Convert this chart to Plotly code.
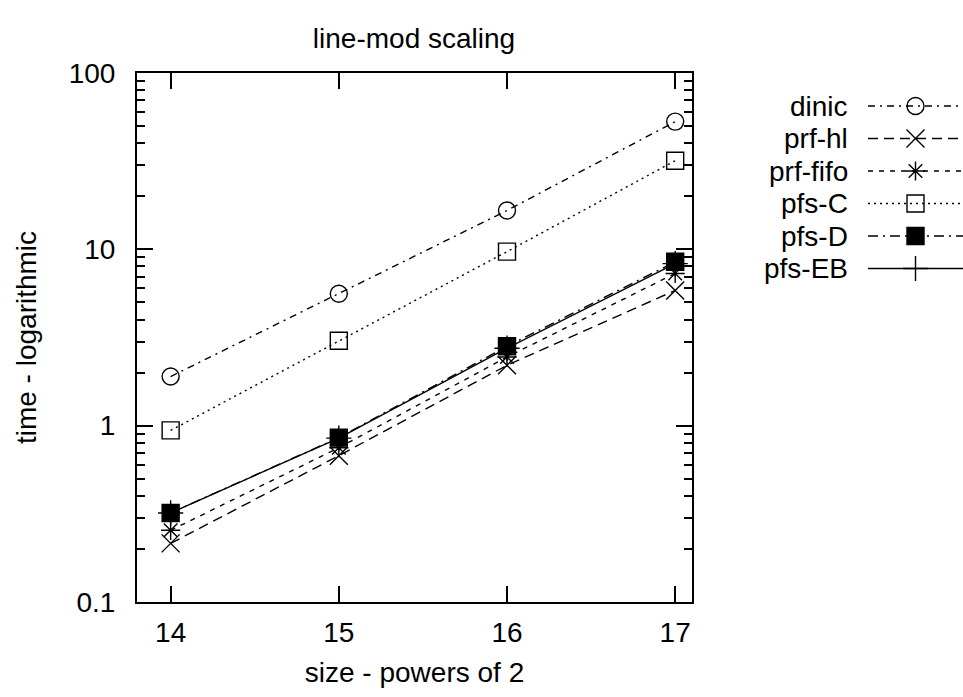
import plotly.graph_objects as go

# ---- data ----
sizes = [14, 15, 16, 17]
dinic = [1.90, 5.6, 16.6, 53.0]
prf_hl = [0.215, 0.676, 2.2, 5.85]
prf_fifo = [0.255, 0.75, 2.45, 7.3]
pfs_C = [0.94, 3.03, 9.7, 31.8]
pfs_D = [0.32, 0.855, 2.82, 8.5]
pfs_EB = [0.32, 0.85, 2.75, 8.3]

names = ["dinic", "prf-hl", "prf-fifo", "pfs-C", "pfs-D", "pfs-EB"]
series = [dinic, prf_hl, prf_fifo, pfs_C, pfs_D, pfs_EB]
ytickvals = [0.1, 1, 10, 100]
yticktext = ["0.1", "1", "10", "100"]
yminor = [m * 10 ** e for e in (-1, 0, 1) for m in range(2, 10)]

# ---- styles ----
dashes = ["7px,5px,2px,5px", "10px,6px", "5px,6px", "2px,4px", "10px,5px,2px,5px", "solid"]
symbols = ["circle-open", "x-thin-open", "asterisk-open", "square-open", "square", "cross-thin-open"]
msizes = [17, 18, 16, 17, 17, 18]

FONT = "Liberation Sans, Arial, Helvetica, sans-serif"
FS = 28
W, H = 963, 697
L, R_PLOT, T, B_PLOT = 137, 692, 73, 602
plot_w = W - L  # margin right = 0
main_dom = (R_PLOT - L) / plot_w

fig = go.Figure()

for nm, ys, d, s, ms in zip(names, series, dashes, symbols, msizes):
    fig.add_trace(go.Scatter(
        x=sizes, y=ys, mode="lines+markers", name=nm,
        line=dict(color="black", width=1.4, dash=d),
        marker=dict(symbol=s, size=ms, color="black",
                    line=dict(color="black", width=1.4)),
        xaxis="x", yaxis="y", showlegend=False, cliponaxis=False,
    ))

# custom legend (text left, sample right) drawn in a hidden helper axis
for i, (nm, d, s, ms) in enumerate(zip(names, dashes, symbols, msizes)):
    fig.add_trace(go.Scatter(
        x=[0, 1], y=[i, i], mode="lines", line=dict(color="black", width=1.4, dash=d),
        xaxis="x2", yaxis="y2", showlegend=False, hoverinfo="skip",
    ))
    fig.add_trace(go.Scatter(
        x=[0.5], y=[i], mode="markers",
        marker=dict(symbol=s, size=ms, color="black", line=dict(color="black", width=1.4)),
        xaxis="x2", yaxis="y2", showlegend=False, hoverinfo="skip", cliponaxis=False,
    ))
    fig.add_annotation(
        x=(850 - L) / plot_w, y=i, xref="paper", yref="y2", text=nm,
        showarrow=False, xanchor="right", yanchor="middle",
        font=dict(family=FONT, size=FS, color="black"),
    )

row_px = 32.5
top_rows = (106 - T) / row_px
span_rows = (B_PLOT - T) / row_px

axis_common = dict(
    showgrid=False, zeroline=False, showline=True, linecolor="black", linewidth=2,
    mirror="ticks", ticks="inside", ticklen=16, tickwidth=2, tickcolor="black",
    tickfont=dict(family=FONT, size=FS, color="black"),
)

fig.update_layout(
    width=W, height=H,
    margin=dict(l=L, r=0, t=T, b=H - B_PLOT),
    paper_bgcolor="white", plot_bgcolor="white",
    font=dict(family=FONT, size=FS, color="black"),
    title=dict(text="line-mod scaling", x=(414 - L) / plot_w, xref="paper", xanchor="center",
               y=1 - 38 / H, yref="container", yanchor="middle",
               font=dict(family=FONT, size=FS, color="black")),
    xaxis=dict(domain=[0, main_dom], range=[13.8, 17.1], tickvals=sizes,
               ticktext=[str(v) for v in sizes], ticklabelstandoff=4,
               title=dict(text="size - powers of 2", standoff=16,
                          font=dict(family=FONT, size=FS)),
               **axis_common),
    yaxis=dict(type="log", range=[-1, 2], tickvals=ytickvals, ticktext=yticktext,
               ticklabelstandoff=14,
               minor=dict(tickmode="array", tickvals=yminor, ticks="inside", ticklen=8,
                          tickwidth=2, tickcolor="black", showgrid=False),
               title=dict(text="time - logarithmic", standoff=24,
                          font=dict(family=FONT, size=FS)),
               **axis_common),
    xaxis2=dict(domain=[(868 - L) / plot_w, 1.0], range=[0, 1], visible=False, anchor="y2"),
    yaxis2=dict(domain=[0, 1], range=[span_rows - top_rows, -top_rows], visible=False, anchor="x2"),
)

fig.write_html("out.html")
